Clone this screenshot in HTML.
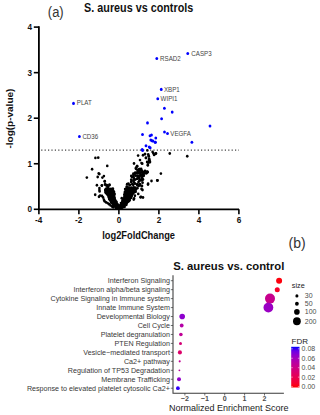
<!DOCTYPE html>
<html><head><meta charset="utf-8"><style>
html,body{margin:0;padding:0;background:#fff;}
body{width:320px;height:415px;overflow:hidden;font-family:"Liberation Sans",sans-serif;}
svg{display:block;}
</style></head><body>
<svg width="320" height="415" viewBox="0 0 320 415">
<rect width="320" height="415" fill="#fff"/>
<text transform="translate(47.80,17.00) scale(1,1.07)" font-family="Liberation Sans, sans-serif" font-size="13" fill="#333">(a)</text>
<text transform="translate(84.10,12.00) scale(1,1.1)" font-family="Liberation Sans, sans-serif" font-size="10.8" font-weight="bold" fill="#111">S. aureus vs controls</text>
<text transform="translate(12.50,118.60) scale(1,1.1) rotate(-90)" font-family="Liberation Sans, sans-serif" font-size="9.1" font-weight="bold" text-anchor="middle" fill="#111">-log(p-value)</text>
<text transform="translate(138.60,238.50) scale(1,1.1)" font-family="Liberation Sans, sans-serif" font-size="9.3" font-weight="bold" text-anchor="middle" fill="#111">log2FoldChange</text>
<line x1="41.2" y1="150.1" x2="239" y2="150.1" stroke="#444" stroke-width="1.2" stroke-dasharray="1.2 2.2"/>
<path d="M38.9 26.3 V209.3 H239" fill="none" stroke="#000" stroke-width="1.8"/>
<line x1="33.8" y1="209.30" x2="38.9" y2="209.30" stroke="#000" stroke-width="1.6"/>
<text transform="translate(32.00,212.30) scale(1,1.1)" font-family="Liberation Sans, sans-serif" font-size="8.2" font-weight="bold" text-anchor="end" fill="#111">0</text>
<line x1="33.8" y1="163.75" x2="38.9" y2="163.75" stroke="#000" stroke-width="1.6"/>
<text transform="translate(32.00,166.75) scale(1,1.1)" font-family="Liberation Sans, sans-serif" font-size="8.2" font-weight="bold" text-anchor="end" fill="#111">1</text>
<line x1="33.8" y1="118.20" x2="38.9" y2="118.20" stroke="#000" stroke-width="1.6"/>
<text transform="translate(32.00,121.20) scale(1,1.1)" font-family="Liberation Sans, sans-serif" font-size="8.2" font-weight="bold" text-anchor="end" fill="#111">2</text>
<line x1="33.8" y1="72.65" x2="38.9" y2="72.65" stroke="#000" stroke-width="1.6"/>
<text transform="translate(32.00,75.65) scale(1,1.1)" font-family="Liberation Sans, sans-serif" font-size="8.2" font-weight="bold" text-anchor="end" fill="#111">3</text>
<line x1="33.8" y1="27.10" x2="38.9" y2="27.10" stroke="#000" stroke-width="1.6"/>
<text transform="translate(32.00,30.10) scale(1,1.1)" font-family="Liberation Sans, sans-serif" font-size="8.2" font-weight="bold" text-anchor="end" fill="#111">4</text>
<line x1="38.90" y1="209.3" x2="38.90" y2="214.3" stroke="#000" stroke-width="1.6"/>
<text transform="translate(38.60,223.30) scale(1,1.1)" font-family="Liberation Sans, sans-serif" font-size="8.2" font-weight="bold" text-anchor="middle" fill="#111">-4</text>
<line x1="78.90" y1="209.3" x2="78.90" y2="214.3" stroke="#000" stroke-width="1.6"/>
<text transform="translate(78.60,223.30) scale(1,1.1)" font-family="Liberation Sans, sans-serif" font-size="8.2" font-weight="bold" text-anchor="middle" fill="#111">-2</text>
<line x1="118.90" y1="209.3" x2="118.90" y2="214.3" stroke="#000" stroke-width="1.6"/>
<text transform="translate(118.90,223.30) scale(1,1.1)" font-family="Liberation Sans, sans-serif" font-size="8.2" font-weight="bold" text-anchor="middle" fill="#111">0</text>
<line x1="158.90" y1="209.3" x2="158.90" y2="214.3" stroke="#000" stroke-width="1.6"/>
<text transform="translate(158.90,223.30) scale(1,1.1)" font-family="Liberation Sans, sans-serif" font-size="8.2" font-weight="bold" text-anchor="middle" fill="#111">2</text>
<line x1="198.90" y1="209.3" x2="198.90" y2="214.3" stroke="#000" stroke-width="1.6"/>
<text transform="translate(198.90,223.30) scale(1,1.1)" font-family="Liberation Sans, sans-serif" font-size="8.2" font-weight="bold" text-anchor="middle" fill="#111">4</text>
<line x1="238.90" y1="209.3" x2="238.90" y2="214.3" stroke="#000" stroke-width="1.6"/>
<text transform="translate(238.90,223.30) scale(1,1.1)" font-family="Liberation Sans, sans-serif" font-size="8.2" font-weight="bold" text-anchor="middle" fill="#111">6</text>
<clipPath id="lc"><rect x="0" y="187.5" width="320" height="21.8"/></clipPath>
<polygon clip-path="url(#lc)" points="104.5,189 107,187.5 110,187.3 112.5,188 114.5,190 115,196 116.5,200 118.5,204 119.6,208.8 115,208.8 113.5,206 111,203 108.5,200 107,196 104.5,193 104,190" fill="#000"/>
<polygon clip-path="url(#lc)" points="117.8,208.8 118.5,205.75 120.5,202.75 122.75,199 123.5,195.25 124.25,191.5 125,187.75 126.5,184.5 130.75,180 131.4,175.6 132.6,173.75 135.1,171.25 137,169.4 138.9,168.75 141,168.5 145,170.5 148.25,171.9 146,174 143.25,178.75 142.6,183 141,186 138,188 136.25,191.5 132.5,195.25 131,199 128.75,202.75 125.5,205.75 123.25,208.8" fill="#000"/>
<circle cx="106.32" cy="188.51" r="1.35" fill="#000"/>
<circle cx="107.25" cy="188.62" r="1.35" fill="#000"/>
<circle cx="109.02" cy="189.43" r="1.35" fill="#000"/>
<circle cx="111.1" cy="189.22" r="1.35" fill="#000"/>
<circle cx="112.81" cy="188.53" r="1.35" fill="#000"/>
<circle cx="105.99" cy="190.49" r="1.35" fill="#000"/>
<circle cx="107.53" cy="191.25" r="1.35" fill="#000"/>
<circle cx="109.0" cy="191.38" r="1.35" fill="#000"/>
<circle cx="110.9" cy="191.11" r="1.35" fill="#000"/>
<circle cx="112.74" cy="190.25" r="1.35" fill="#000"/>
<circle cx="106.16" cy="193.08" r="1.35" fill="#000"/>
<circle cx="107.7" cy="192.02" r="1.35" fill="#000"/>
<circle cx="109.43" cy="193.14" r="1.35" fill="#000"/>
<circle cx="110.74" cy="192.41" r="1.35" fill="#000"/>
<circle cx="112.18" cy="192.5" r="1.35" fill="#000"/>
<circle cx="114.04" cy="192.02" r="1.35" fill="#000"/>
<circle cx="107.88" cy="194.74" r="1.35" fill="#000"/>
<circle cx="109.15" cy="194.13" r="1.35" fill="#000"/>
<circle cx="111.55" cy="193.88" r="1.35" fill="#000"/>
<circle cx="112.43" cy="193.98" r="1.35" fill="#000"/>
<circle cx="114.61" cy="194.02" r="1.35" fill="#000"/>
<circle cx="109.59" cy="196.5" r="1.35" fill="#000"/>
<circle cx="110.87" cy="195.93" r="1.35" fill="#000"/>
<circle cx="112.91" cy="195.52" r="1.35" fill="#000"/>
<circle cx="114.15" cy="195.64" r="1.35" fill="#000"/>
<circle cx="109.07" cy="197.64" r="1.35" fill="#000"/>
<circle cx="111.42" cy="198.39" r="1.35" fill="#000"/>
<circle cx="112.73" cy="197.3" r="1.35" fill="#000"/>
<circle cx="114.31" cy="197.52" r="1.35" fill="#000"/>
<circle cx="109.49" cy="199.26" r="1.35" fill="#000"/>
<circle cx="110.6" cy="199.88" r="1.35" fill="#000"/>
<circle cx="113.08" cy="199.35" r="1.35" fill="#000"/>
<circle cx="114.87" cy="200.13" r="1.35" fill="#000"/>
<circle cx="110.94" cy="201.82" r="1.35" fill="#000"/>
<circle cx="113.3" cy="201.14" r="1.35" fill="#000"/>
<circle cx="114.17" cy="200.94" r="1.35" fill="#000"/>
<circle cx="116.4" cy="201.78" r="1.35" fill="#000"/>
<circle cx="111.35" cy="202.85" r="1.35" fill="#000"/>
<circle cx="113.32" cy="202.93" r="1.35" fill="#000"/>
<circle cx="115.04" cy="203.32" r="1.35" fill="#000"/>
<circle cx="115.8" cy="202.63" r="1.35" fill="#000"/>
<circle cx="113.27" cy="204.72" r="1.35" fill="#000"/>
<circle cx="114.89" cy="204.45" r="1.35" fill="#000"/>
<circle cx="116.0" cy="204.49" r="1.35" fill="#000"/>
<circle cx="117.71" cy="204.7" r="1.35" fill="#000"/>
<circle cx="114.12" cy="205.95" r="1.35" fill="#000"/>
<circle cx="115.86" cy="206.52" r="1.35" fill="#000"/>
<circle cx="118.07" cy="206.34" r="1.35" fill="#000"/>
<circle cx="116.26" cy="208.53" r="1.35" fill="#000"/>
<circle cx="118.04" cy="208.27" r="1.35" fill="#000"/>
<circle cx="141.14" cy="168.9" r="1.35" fill="#000"/>
<circle cx="137.29" cy="169.76" r="1.35" fill="#000"/>
<circle cx="139.03" cy="170.16" r="1.35" fill="#000"/>
<circle cx="141.08" cy="170.41" r="1.35" fill="#000"/>
<circle cx="141.8" cy="170.68" r="1.35" fill="#000"/>
<circle cx="135.27" cy="172.52" r="1.35" fill="#000"/>
<circle cx="137.43" cy="171.92" r="1.35" fill="#000"/>
<circle cx="139.2" cy="171.87" r="1.35" fill="#000"/>
<circle cx="140.78" cy="172.58" r="1.35" fill="#000"/>
<circle cx="142.7" cy="172.25" r="1.35" fill="#000"/>
<circle cx="143.94" cy="171.82" r="1.35" fill="#000"/>
<circle cx="145.36" cy="171.48" r="1.35" fill="#000"/>
<circle cx="147.26" cy="171.6" r="1.35" fill="#000"/>
<circle cx="133.41" cy="173.72" r="1.35" fill="#000"/>
<circle cx="134.94" cy="173.76" r="1.35" fill="#000"/>
<circle cx="136.77" cy="173.26" r="1.35" fill="#000"/>
<circle cx="138.25" cy="173.18" r="1.35" fill="#000"/>
<circle cx="140.23" cy="173.85" r="1.35" fill="#000"/>
<circle cx="142.6" cy="173.94" r="1.35" fill="#000"/>
<circle cx="144.5" cy="173.62" r="1.35" fill="#000"/>
<circle cx="146.38" cy="173.33" r="1.35" fill="#000"/>
<circle cx="133.38" cy="175.03" r="1.35" fill="#000"/>
<circle cx="135.37" cy="175.65" r="1.35" fill="#000"/>
<circle cx="137.27" cy="175.49" r="1.35" fill="#000"/>
<circle cx="139.16" cy="175.8" r="1.35" fill="#000"/>
<circle cx="140.59" cy="175.69" r="1.35" fill="#000"/>
<circle cx="142.58" cy="175.2" r="1.35" fill="#000"/>
<circle cx="143.77" cy="175.78" r="1.35" fill="#000"/>
<circle cx="132.01" cy="177.0" r="1.35" fill="#000"/>
<circle cx="133.51" cy="177.21" r="1.35" fill="#000"/>
<circle cx="137.57" cy="176.67" r="1.35" fill="#000"/>
<circle cx="139.18" cy="177.81" r="1.35" fill="#000"/>
<circle cx="141.95" cy="177.35" r="1.35" fill="#000"/>
<circle cx="131.34" cy="179.51" r="1.35" fill="#000"/>
<circle cx="134.03" cy="178.75" r="1.35" fill="#000"/>
<circle cx="135.17" cy="179.6" r="1.35" fill="#000"/>
<circle cx="136.88" cy="178.91" r="1.35" fill="#000"/>
<circle cx="138.26" cy="178.52" r="1.35" fill="#000"/>
<circle cx="140.29" cy="179.52" r="1.35" fill="#000"/>
<circle cx="142.02" cy="179.01" r="1.35" fill="#000"/>
<circle cx="131.51" cy="180.94" r="1.35" fill="#000"/>
<circle cx="133.62" cy="180.62" r="1.35" fill="#000"/>
<circle cx="139.4" cy="180.69" r="1.35" fill="#000"/>
<circle cx="140.18" cy="180.26" r="1.35" fill="#000"/>
<circle cx="141.81" cy="180.44" r="1.35" fill="#000"/>
<circle cx="131.23" cy="181.94" r="1.35" fill="#000"/>
<circle cx="134.02" cy="182.47" r="1.35" fill="#000"/>
<circle cx="138.5" cy="182.03" r="1.35" fill="#000"/>
<circle cx="142.57" cy="182.68" r="1.35" fill="#000"/>
<circle cx="128.42" cy="183.66" r="1.35" fill="#000"/>
<circle cx="130.0" cy="184.8" r="1.35" fill="#000"/>
<circle cx="132.26" cy="184.22" r="1.35" fill="#000"/>
<circle cx="133.25" cy="184.8" r="1.35" fill="#000"/>
<circle cx="135.07" cy="183.68" r="1.35" fill="#000"/>
<circle cx="137.26" cy="184.15" r="1.35" fill="#000"/>
<circle cx="139.0" cy="184.76" r="1.35" fill="#000"/>
<circle cx="139.99" cy="184.06" r="1.35" fill="#000"/>
<circle cx="126.75" cy="186.54" r="1.35" fill="#000"/>
<circle cx="129.62" cy="185.46" r="1.35" fill="#000"/>
<circle cx="137.35" cy="185.44" r="1.35" fill="#000"/>
<circle cx="138.65" cy="185.85" r="1.35" fill="#000"/>
<circle cx="140.15" cy="185.4" r="1.35" fill="#000"/>
<circle cx="126.92" cy="188.07" r="1.35" fill="#000"/>
<circle cx="127.74" cy="187.23" r="1.35" fill="#000"/>
<circle cx="129.76" cy="188.05" r="1.35" fill="#000"/>
<circle cx="131.61" cy="187.48" r="1.35" fill="#000"/>
<circle cx="133.69" cy="187.46" r="1.35" fill="#000"/>
<circle cx="135.08" cy="187.48" r="1.35" fill="#000"/>
<circle cx="137.36" cy="188.25" r="1.35" fill="#000"/>
<circle cx="125.14" cy="188.99" r="1.35" fill="#000"/>
<circle cx="126.85" cy="189.2" r="1.35" fill="#000"/>
<circle cx="127.74" cy="189.56" r="1.35" fill="#000"/>
<circle cx="130.63" cy="189.96" r="1.35" fill="#000"/>
<circle cx="131.52" cy="189.0" r="1.35" fill="#000"/>
<circle cx="133.55" cy="189.75" r="1.35" fill="#000"/>
<circle cx="134.98" cy="189.4" r="1.35" fill="#000"/>
<circle cx="124.98" cy="191.84" r="1.35" fill="#000"/>
<circle cx="126.52" cy="191.63" r="1.35" fill="#000"/>
<circle cx="128.8" cy="190.7" r="1.35" fill="#000"/>
<circle cx="129.59" cy="190.88" r="1.35" fill="#000"/>
<circle cx="131.9" cy="191.77" r="1.35" fill="#000"/>
<circle cx="133.99" cy="191.19" r="1.35" fill="#000"/>
<circle cx="135.63" cy="191.78" r="1.35" fill="#000"/>
<circle cx="124.97" cy="192.51" r="1.35" fill="#000"/>
<circle cx="126.78" cy="192.89" r="1.35" fill="#000"/>
<circle cx="128.07" cy="193.54" r="1.35" fill="#000"/>
<circle cx="130.13" cy="192.83" r="1.35" fill="#000"/>
<circle cx="132.24" cy="193.6" r="1.35" fill="#000"/>
<circle cx="133.19" cy="193.27" r="1.35" fill="#000"/>
<circle cx="124.44" cy="194.3" r="1.35" fill="#000"/>
<circle cx="127.12" cy="194.73" r="1.35" fill="#000"/>
<circle cx="128.81" cy="194.62" r="1.35" fill="#000"/>
<circle cx="130.19" cy="195.14" r="1.35" fill="#000"/>
<circle cx="132.14" cy="194.42" r="1.35" fill="#000"/>
<circle cx="124.73" cy="195.93" r="1.35" fill="#000"/>
<circle cx="126.54" cy="196.18" r="1.35" fill="#000"/>
<circle cx="128.64" cy="196.45" r="1.35" fill="#000"/>
<circle cx="130.02" cy="196.03" r="1.35" fill="#000"/>
<circle cx="131.72" cy="196.01" r="1.35" fill="#000"/>
<circle cx="125.11" cy="197.84" r="1.35" fill="#000"/>
<circle cx="126.28" cy="198.63" r="1.35" fill="#000"/>
<circle cx="128.3" cy="198.75" r="1.35" fill="#000"/>
<circle cx="129.77" cy="198.26" r="1.35" fill="#000"/>
<circle cx="131.24" cy="197.87" r="1.35" fill="#000"/>
<circle cx="122.66" cy="200.29" r="1.35" fill="#000"/>
<circle cx="125.18" cy="199.7" r="1.35" fill="#000"/>
<circle cx="127.13" cy="200.1" r="1.35" fill="#000"/>
<circle cx="128.08" cy="199.4" r="1.35" fill="#000"/>
<circle cx="129.63" cy="200.14" r="1.35" fill="#000"/>
<circle cx="122.46" cy="201.92" r="1.35" fill="#000"/>
<circle cx="124.62" cy="201.92" r="1.35" fill="#000"/>
<circle cx="127.07" cy="202.03" r="1.35" fill="#000"/>
<circle cx="128.78" cy="201.2" r="1.35" fill="#000"/>
<circle cx="120.97" cy="203.03" r="1.35" fill="#000"/>
<circle cx="122.5" cy="203.3" r="1.35" fill="#000"/>
<circle cx="125.03" cy="203.91" r="1.35" fill="#000"/>
<circle cx="126.27" cy="203.56" r="1.35" fill="#000"/>
<circle cx="119.47" cy="205.52" r="1.35" fill="#000"/>
<circle cx="121.07" cy="204.9" r="1.35" fill="#000"/>
<circle cx="122.54" cy="205.74" r="1.35" fill="#000"/>
<circle cx="124.23" cy="204.78" r="1.35" fill="#000"/>
<circle cx="126.36" cy="204.82" r="1.35" fill="#000"/>
<circle cx="119.07" cy="207.31" r="1.35" fill="#000"/>
<circle cx="121.08" cy="206.91" r="1.35" fill="#000"/>
<circle cx="122.76" cy="206.74" r="1.35" fill="#000"/>
<circle cx="124.64" cy="206.78" r="1.35" fill="#000"/>
<circle cx="118.2" cy="208.46" r="1.35" fill="#000"/>
<circle cx="119.29" cy="208.41" r="1.35" fill="#000"/>
<circle cx="121.3" cy="208.28" r="1.35" fill="#000"/>
<ellipse cx="95.4" cy="157.9" rx="1.3" ry="1.45" fill="#000"/>
<ellipse cx="98.25" cy="157.65" rx="1.3" ry="1.45" fill="#000"/>
<ellipse cx="107.25" cy="165.9" rx="1.3" ry="1.45" fill="#000"/>
<ellipse cx="92.1" cy="169.2" rx="1.3" ry="1.45" fill="#000"/>
<ellipse cx="98.7" cy="173.5" rx="1.3" ry="1.45" fill="#000"/>
<ellipse cx="99.4" cy="174.1" rx="1.3" ry="1.45" fill="#000"/>
<ellipse cx="86.85" cy="177.6" rx="1.3" ry="1.45" fill="#000"/>
<ellipse cx="97.7" cy="177" rx="1.3" ry="1.45" fill="#000"/>
<ellipse cx="102.4" cy="177.6" rx="1.3" ry="1.45" fill="#000"/>
<ellipse cx="103.9" cy="176.1" rx="1.3" ry="1.45" fill="#000"/>
<ellipse cx="104.85" cy="181.4" rx="1.3" ry="1.45" fill="#000"/>
<ellipse cx="96.9" cy="185.3" rx="1.3" ry="1.45" fill="#000"/>
<ellipse cx="101.85" cy="185.5" rx="1.3" ry="1.45" fill="#000"/>
<ellipse cx="105.4" cy="184.75" rx="1.3" ry="1.45" fill="#000"/>
<ellipse cx="106.5" cy="185.5" rx="1.3" ry="1.45" fill="#000"/>
<ellipse cx="99.4" cy="188.1" rx="1.3" ry="1.45" fill="#000"/>
<ellipse cx="99.4" cy="190" rx="1.3" ry="1.45" fill="#000"/>
<ellipse cx="99.6" cy="191.4" rx="1.3" ry="1.45" fill="#000"/>
<ellipse cx="105.4" cy="189.6" rx="1.3" ry="1.45" fill="#000"/>
<ellipse cx="106.1" cy="191.5" rx="1.3" ry="1.45" fill="#000"/>
<ellipse cx="105.75" cy="192.6" rx="1.3" ry="1.45" fill="#000"/>
<ellipse cx="106.9" cy="190.75" rx="1.3" ry="1.45" fill="#000"/>
<ellipse cx="95.2" cy="194.8" rx="1.3" ry="1.45" fill="#000"/>
<ellipse cx="100.1" cy="195.6" rx="1.3" ry="1.45" fill="#000"/>
<ellipse cx="102" cy="196" rx="1.3" ry="1.45" fill="#000"/>
<ellipse cx="99" cy="196.75" rx="1.3" ry="1.45" fill="#000"/>
<ellipse cx="103.1" cy="197.5" rx="1.3" ry="1.45" fill="#000"/>
<ellipse cx="103.9" cy="199.75" rx="1.3" ry="1.45" fill="#000"/>
<ellipse cx="104.6" cy="201.25" rx="1.3" ry="1.45" fill="#000"/>
<ellipse cx="106.1" cy="202.4" rx="1.3" ry="1.45" fill="#000"/>
<ellipse cx="107.6" cy="203.1" rx="1.3" ry="1.45" fill="#000"/>
<ellipse cx="109.1" cy="204.25" rx="1.3" ry="1.45" fill="#000"/>
<ellipse cx="110.6" cy="205.4" rx="1.3" ry="1.45" fill="#000"/>
<ellipse cx="112.1" cy="206.5" rx="1.3" ry="1.45" fill="#000"/>
<ellipse cx="113.25" cy="207.25" rx="1.3" ry="1.45" fill="#000"/>
<ellipse cx="104.7" cy="181.25" rx="1.3" ry="1.45" fill="#000"/>
<ellipse cx="101.9" cy="185.6" rx="1.3" ry="1.45" fill="#000"/>
<ellipse cx="105" cy="184.4" rx="1.3" ry="1.45" fill="#000"/>
<ellipse cx="106.9" cy="185.3" rx="1.3" ry="1.45" fill="#000"/>
<ellipse cx="109.4" cy="185" rx="1.3" ry="1.45" fill="#000"/>
<ellipse cx="108.1" cy="186.9" rx="1.3" ry="1.45" fill="#000"/>
<ellipse cx="109.5" cy="185" rx="1.3" ry="1.45" fill="#000"/>
<ellipse cx="121.75" cy="198.2" rx="1.3" ry="1.45" fill="#000"/>
<ellipse cx="138.25" cy="193.9" rx="1.3" ry="1.45" fill="#000"/>
<ellipse cx="134.9" cy="195.75" rx="1.3" ry="1.45" fill="#000"/>
<ellipse cx="134.1" cy="198.4" rx="1.3" ry="1.45" fill="#000"/>
<ellipse cx="133.75" cy="199.5" rx="1.3" ry="1.45" fill="#000"/>
<ellipse cx="140.5" cy="197.25" rx="1.3" ry="1.45" fill="#000"/>
<ellipse cx="141" cy="197" rx="1.3" ry="1.45" fill="#000"/>
<ellipse cx="143" cy="197.5" rx="1.3" ry="1.45" fill="#000"/>
<ellipse cx="127.1" cy="184.25" rx="1.3" ry="1.45" fill="#000"/>
<ellipse cx="131.25" cy="176" rx="1.3" ry="1.45" fill="#000"/>
<ellipse cx="137.2" cy="166.25" rx="1.3" ry="1.45" fill="#000"/>
<ellipse cx="135.9" cy="168.1" rx="1.3" ry="1.45" fill="#000"/>
<ellipse cx="139.7" cy="169.1" rx="1.3" ry="1.45" fill="#000"/>
<ellipse cx="147.8" cy="165.3" rx="1.3" ry="1.45" fill="#000"/>
<ellipse cx="137" cy="166.1" rx="1.3" ry="1.45" fill="#000"/>
<ellipse cx="136.25" cy="167.6" rx="1.3" ry="1.45" fill="#000"/>
<ellipse cx="135.9" cy="168.75" rx="1.3" ry="1.45" fill="#000"/>
<ellipse cx="139.25" cy="169.1" rx="1.3" ry="1.45" fill="#000"/>
<ellipse cx="140" cy="170.25" rx="1.3" ry="1.45" fill="#000"/>
<ellipse cx="147.35" cy="150.4" rx="1.3" ry="1.45" fill="#000"/>
<ellipse cx="138.1" cy="155.6" rx="1.3" ry="1.45" fill="#000"/>
<ellipse cx="143" cy="155.25" rx="1.3" ry="1.45" fill="#000"/>
<ellipse cx="144.9" cy="154.1" rx="1.3" ry="1.45" fill="#000"/>
<ellipse cx="148.25" cy="154.5" rx="1.3" ry="1.45" fill="#000"/>
<ellipse cx="148.6" cy="156" rx="1.3" ry="1.45" fill="#000"/>
<ellipse cx="146" cy="157.9" rx="1.3" ry="1.45" fill="#000"/>
<ellipse cx="140" cy="160.1" rx="1.3" ry="1.45" fill="#000"/>
<ellipse cx="149" cy="159.4" rx="1.3" ry="1.45" fill="#000"/>
<ellipse cx="149.4" cy="160.9" rx="1.3" ry="1.45" fill="#000"/>
<ellipse cx="149.75" cy="162" rx="1.3" ry="1.45" fill="#000"/>
<ellipse cx="141.5" cy="163.1" rx="1.3" ry="1.45" fill="#000"/>
<ellipse cx="142.25" cy="163.65" rx="1.3" ry="1.45" fill="#000"/>
<ellipse cx="147.1" cy="162" rx="1.3" ry="1.45" fill="#000"/>
<ellipse cx="147.9" cy="162.4" rx="1.3" ry="1.45" fill="#000"/>
<ellipse cx="134" cy="163.5" rx="1.3" ry="1.45" fill="#000"/>
<ellipse cx="147.9" cy="165" rx="1.3" ry="1.45" fill="#000"/>
<ellipse cx="152.6" cy="151.9" rx="1.3" ry="1.45" fill="#000"/>
<ellipse cx="153.4" cy="153.4" rx="1.3" ry="1.45" fill="#000"/>
<ellipse cx="154.1" cy="154.9" rx="1.3" ry="1.45" fill="#000"/>
<ellipse cx="156" cy="153.4" rx="1.3" ry="1.45" fill="#000"/>
<ellipse cx="145.1" cy="154.1" rx="1.3" ry="1.45" fill="#000"/>
<ellipse cx="148.9" cy="156.4" rx="1.3" ry="1.45" fill="#000"/>
<ellipse cx="145.9" cy="157.9" rx="1.3" ry="1.45" fill="#000"/>
<ellipse cx="149.25" cy="159" rx="1.3" ry="1.45" fill="#000"/>
<ellipse cx="149.25" cy="160.5" rx="1.3" ry="1.45" fill="#000"/>
<ellipse cx="150" cy="162" rx="1.3" ry="1.45" fill="#000"/>
<ellipse cx="148.5" cy="162.4" rx="1.3" ry="1.45" fill="#000"/>
<ellipse cx="145.1" cy="171.4" rx="1.3" ry="1.45" fill="#000"/>
<ellipse cx="147.4" cy="172.1" rx="1.3" ry="1.45" fill="#000"/>
<ellipse cx="160.9" cy="173.6" rx="1.3" ry="1.45" fill="#000"/>
<ellipse cx="145" cy="171" rx="1.3" ry="1.45" fill="#000"/>
<ellipse cx="147.5" cy="172.2" rx="1.3" ry="1.45" fill="#000"/>
<ellipse cx="142" cy="175" rx="1.3" ry="1.45" fill="#000"/>
<ellipse cx="143" cy="175.5" rx="1.3" ry="1.45" fill="#000"/>
<ellipse cx="143" cy="179.5" rx="1.3" ry="1.45" fill="#000"/>
<ellipse cx="151.5" cy="181" rx="1.3" ry="1.45" fill="#000"/>
<ellipse cx="157.5" cy="180.5" rx="1.3" ry="1.45" fill="#000"/>
<ellipse cx="148" cy="184.5" rx="1.3" ry="1.45" fill="#000"/>
<ellipse cx="142" cy="186" rx="1.3" ry="1.45" fill="#000"/>
<ellipse cx="141.5" cy="189" rx="1.3" ry="1.45" fill="#000"/>
<ellipse cx="142.5" cy="190" rx="1.3" ry="1.45" fill="#000"/>
<ellipse cx="148.1" cy="183.75" rx="1.3" ry="1.45" fill="#000"/>
<ellipse cx="169.75" cy="153.5" rx="1.3" ry="1.45" fill="#000"/>
<ellipse cx="187.25" cy="156.25" rx="1.3" ry="1.45" fill="#000"/>
<ellipse cx="155.6" cy="153.75" rx="1.3" ry="1.45" fill="#000"/>
<ellipse cx="157.25" cy="180.4" rx="1.3" ry="1.45" fill="#000"/>
<ellipse cx="156.8" cy="58.45" rx="1.4" ry="1.55" fill="#0000ff"/>
<ellipse cx="187.75" cy="53.5" rx="1.4" ry="1.55" fill="#0000ff"/>
<ellipse cx="161.25" cy="89.4" rx="1.4" ry="1.55" fill="#0000ff"/>
<ellipse cx="157.75" cy="98.75" rx="1.4" ry="1.55" fill="#0000ff"/>
<ellipse cx="164.4" cy="108.2" rx="1.4" ry="1.55" fill="#0000ff"/>
<ellipse cx="172.2" cy="112.1" rx="1.4" ry="1.55" fill="#0000ff"/>
<ellipse cx="161.6" cy="118.75" rx="1.4" ry="1.55" fill="#0000ff"/>
<ellipse cx="147.5" cy="122.9" rx="1.4" ry="1.55" fill="#0000ff"/>
<ellipse cx="210" cy="126" rx="1.4" ry="1.55" fill="#0000ff"/>
<ellipse cx="73.5" cy="103.4" rx="1.4" ry="1.55" fill="#0000ff"/>
<ellipse cx="79.4" cy="136.5" rx="1.4" ry="1.55" fill="#0000ff"/>
<ellipse cx="142.5" cy="134.5" rx="1.4" ry="1.55" fill="#0000ff"/>
<ellipse cx="150" cy="135.8" rx="1.4" ry="1.55" fill="#0000ff"/>
<ellipse cx="151.5" cy="135" rx="1.4" ry="1.55" fill="#0000ff"/>
<ellipse cx="155.8" cy="138" rx="1.4" ry="1.55" fill="#0000ff"/>
<ellipse cx="150.8" cy="140" rx="1.4" ry="1.55" fill="#0000ff"/>
<ellipse cx="152" cy="140.7" rx="1.4" ry="1.55" fill="#0000ff"/>
<ellipse cx="153" cy="141" rx="1.4" ry="1.55" fill="#0000ff"/>
<ellipse cx="155.2" cy="142.2" rx="1.4" ry="1.55" fill="#0000ff"/>
<ellipse cx="146" cy="145.8" rx="1.4" ry="1.55" fill="#0000ff"/>
<ellipse cx="149.2" cy="147" rx="1.4" ry="1.55" fill="#0000ff"/>
<ellipse cx="150.2" cy="147.8" rx="1.4" ry="1.55" fill="#0000ff"/>
<ellipse cx="142.2" cy="149.5" rx="1.4" ry="1.55" fill="#0000ff"/>
<ellipse cx="164.5" cy="132" rx="1.4" ry="1.55" fill="#0000ff"/>
<ellipse cx="167.5" cy="133.5" rx="1.4" ry="1.55" fill="#0000ff"/>
<ellipse cx="191.9" cy="142.2" rx="1.4" ry="1.55" fill="#0000ff"/>
<ellipse cx="155.4" cy="142.25" rx="1.4" ry="1.55" fill="#0000ff"/>
<ellipse cx="142.6" cy="150.4" rx="1.4" ry="1.55" fill="#0000ff"/>
<text transform="translate(160.10,60.60) scale(1,1.1)" font-family="Liberation Sans, sans-serif" font-size="6.2" fill="#444">RSAD2</text>
<text transform="translate(191.30,55.60) scale(1,1.1)" font-family="Liberation Sans, sans-serif" font-size="6.2" fill="#444">CASP3</text>
<text transform="translate(164.00,91.90) scale(1,1.1)" font-family="Liberation Sans, sans-serif" font-size="6.2" fill="#444">XBP1</text>
<text transform="translate(160.60,101.00) scale(1,1.1)" font-family="Liberation Sans, sans-serif" font-size="6.2" fill="#444">WIPI1</text>
<text transform="translate(76.80,105.30) scale(1,1.1)" font-family="Liberation Sans, sans-serif" font-size="6.2" fill="#444">PLAT</text>
<text transform="translate(82.40,138.80) scale(1,1.1)" font-family="Liberation Sans, sans-serif" font-size="6.2" fill="#444">CD36</text>
<text transform="translate(170.30,135.70) scale(1,1.1)" font-family="Liberation Sans, sans-serif" font-size="6.2" fill="#444">VEGFA</text>
<text x="288.5" y="248.3" font-family="Liberation Sans, sans-serif" font-size="14" fill="#333">(b)</text>
<text x="173.2" y="270.1" font-family="Liberation Sans, sans-serif" font-size="11.3" font-weight="bold" fill="#111">S. aureus vs. control</text>
<text x="169.9" y="283.20" text-anchor="end" font-family="Liberation Sans, sans-serif" font-size="7.17" fill="#383838">Interferon Signaling</text>
<line x1="170.8" y1="280.70" x2="173.0" y2="280.70" stroke="#333" stroke-width="0.7"/>
<text x="169.9" y="292.16" text-anchor="end" font-family="Liberation Sans, sans-serif" font-size="7.17" fill="#383838">Interferon alpha/beta signaling</text>
<line x1="170.8" y1="289.66" x2="173.0" y2="289.66" stroke="#333" stroke-width="0.7"/>
<text x="169.9" y="301.12" text-anchor="end" font-family="Liberation Sans, sans-serif" font-size="7.17" fill="#383838">Cytokine Signaling in Immune system</text>
<line x1="170.8" y1="298.62" x2="173.0" y2="298.62" stroke="#333" stroke-width="0.7"/>
<text x="169.9" y="310.08" text-anchor="end" font-family="Liberation Sans, sans-serif" font-size="7.17" fill="#383838">Innate Immune System</text>
<line x1="170.8" y1="307.58" x2="173.0" y2="307.58" stroke="#333" stroke-width="0.7"/>
<text x="169.9" y="319.04" text-anchor="end" font-family="Liberation Sans, sans-serif" font-size="7.17" fill="#383838">Developmental Biology</text>
<line x1="170.8" y1="316.54" x2="173.0" y2="316.54" stroke="#333" stroke-width="0.7"/>
<text x="169.9" y="328.00" text-anchor="end" font-family="Liberation Sans, sans-serif" font-size="7.17" fill="#383838">Cell Cycle</text>
<line x1="170.8" y1="325.50" x2="173.0" y2="325.50" stroke="#333" stroke-width="0.7"/>
<text x="169.9" y="336.96" text-anchor="end" font-family="Liberation Sans, sans-serif" font-size="7.17" fill="#383838">Platelet degranulation</text>
<line x1="170.8" y1="334.46" x2="173.0" y2="334.46" stroke="#333" stroke-width="0.7"/>
<text x="169.9" y="345.92" text-anchor="end" font-family="Liberation Sans, sans-serif" font-size="7.17" fill="#383838">PTEN Regulation</text>
<line x1="170.8" y1="343.42" x2="173.0" y2="343.42" stroke="#333" stroke-width="0.7"/>
<text x="169.9" y="354.88" text-anchor="end" font-family="Liberation Sans, sans-serif" font-size="7.17" fill="#383838">Vesicle−mediated transport</text>
<line x1="170.8" y1="352.38" x2="173.0" y2="352.38" stroke="#333" stroke-width="0.7"/>
<text x="169.9" y="363.84" text-anchor="end" font-family="Liberation Sans, sans-serif" font-size="7.17" fill="#383838">Ca2+ pathway</text>
<line x1="170.8" y1="361.34" x2="173.0" y2="361.34" stroke="#333" stroke-width="0.7"/>
<text x="169.9" y="372.80" text-anchor="end" font-family="Liberation Sans, sans-serif" font-size="7.17" fill="#383838">Regulation of TP53 Degradation</text>
<line x1="170.8" y1="370.30" x2="173.0" y2="370.30" stroke="#333" stroke-width="0.7"/>
<text x="169.9" y="381.76" text-anchor="end" font-family="Liberation Sans, sans-serif" font-size="7.17" fill="#383838">Membrane Trafficking</text>
<line x1="170.8" y1="379.26" x2="173.0" y2="379.26" stroke="#333" stroke-width="0.7"/>
<text x="169.9" y="390.72" text-anchor="end" font-family="Liberation Sans, sans-serif" font-size="7.17" fill="#383838">Response to elevated platelet cytosolic Ca2+</text>
<line x1="170.8" y1="388.22" x2="173.0" y2="388.22" stroke="#333" stroke-width="0.7"/>
<path d="M173.0 275.3 V393.3 H283.9" fill="none" stroke="#3a3a3a" stroke-width="1.05"/>
<line x1="184.90" y1="393.3" x2="184.90" y2="395.5" stroke="#333" stroke-width="0.7"/>
<text x="184.90" y="401.2" text-anchor="middle" font-family="Liberation Sans, sans-serif" font-size="7.1" font-weight="bold" fill="#4d4d4d">−2</text>
<line x1="204.80" y1="393.3" x2="204.80" y2="395.5" stroke="#333" stroke-width="0.7"/>
<text x="204.80" y="401.2" text-anchor="middle" font-family="Liberation Sans, sans-serif" font-size="7.1" font-weight="bold" fill="#4d4d4d">−1</text>
<line x1="224.70" y1="393.3" x2="224.70" y2="395.5" stroke="#333" stroke-width="0.7"/>
<text x="224.70" y="401.2" text-anchor="middle" font-family="Liberation Sans, sans-serif" font-size="7.1" font-weight="bold" fill="#4d4d4d">0</text>
<line x1="244.60" y1="393.3" x2="244.60" y2="395.5" stroke="#333" stroke-width="0.7"/>
<text x="244.60" y="401.2" text-anchor="middle" font-family="Liberation Sans, sans-serif" font-size="7.1" font-weight="bold" fill="#4d4d4d">1</text>
<line x1="264.50" y1="393.3" x2="264.50" y2="395.5" stroke="#333" stroke-width="0.7"/>
<text x="264.50" y="401.2" text-anchor="middle" font-family="Liberation Sans, sans-serif" font-size="7.1" font-weight="bold" fill="#4d4d4d">2</text>
<text x="228.7" y="411" text-anchor="middle" font-family="Liberation Sans, sans-serif" font-size="9" fill="#1a1a1a">Normalized Enrichment Score</text>
<circle cx="279.1" cy="280.70" r="3.0" fill="#fd000d"/>
<circle cx="277.25" cy="289.66" r="2.5" fill="#f6002a"/>
<circle cx="270.0" cy="298.62" r="5.0" fill="#c7008d"/>
<circle cx="268.4" cy="307.58" r="4.9" fill="#9a00c3"/>
<circle cx="182.2" cy="316.54" r="2.8" fill="#8d00ce"/>
<circle cx="181.7" cy="325.50" r="1.9" fill="#b400a6"/>
<circle cx="180.9" cy="334.46" r="1.8" fill="#c00096"/>
<circle cx="180.5" cy="343.42" r="1.5" fill="#d40076"/>
<circle cx="179.9" cy="352.38" r="2.05" fill="#dc0069"/>
<circle cx="179.7" cy="361.34" r="1.05" fill="#c20094"/>
<circle cx="179.4" cy="370.30" r="0.9" fill="#ba009f"/>
<circle cx="179.0" cy="379.26" r="2.0" fill="#9200ca"/>
<circle cx="177.9" cy="388.22" r="1.9" fill="#2f00fa"/>
<text x="291.8" y="288.1" font-family="Liberation Sans, sans-serif" font-size="7.3" fill="#1a1a1a">size</text>
<circle cx="296.9" cy="295.9" r="1.55" fill="#000"/>
<text x="304.8" y="298.40" font-family="Liberation Sans, sans-serif" font-size="7" fill="#4d4d4d">30</text>
<circle cx="296.9" cy="303.75" r="1.9" fill="#000"/>
<text x="304.8" y="306.25" font-family="Liberation Sans, sans-serif" font-size="7" fill="#4d4d4d">50</text>
<circle cx="296.9" cy="311.9" r="2.8" fill="#000"/>
<text x="304.8" y="314.40" font-family="Liberation Sans, sans-serif" font-size="7" fill="#4d4d4d">100</text>
<circle cx="296.9" cy="321.25" r="3.9" fill="#000"/>
<text x="304.8" y="323.75" font-family="Liberation Sans, sans-serif" font-size="7" fill="#4d4d4d">200</text>
<text x="291.6" y="343.7" font-family="Liberation Sans, sans-serif" font-size="8" fill="#1a1a1a">FDR</text>
<defs><linearGradient id="g" x1="0" y1="0" x2="0" y2="1"><stop offset="0.0" stop-color="#0000ff"/><stop offset="0.1" stop-color="#6800e7"/><stop offset="0.2" stop-color="#8d00ce"/><stop offset="0.3" stop-color="#a600b7"/><stop offset="0.4" stop-color="#ba009f"/><stop offset="0.5" stop-color="#ca0088"/><stop offset="0.6" stop-color="#d70072"/><stop offset="0.7" stop-color="#e3005b"/><stop offset="0.8" stop-color="#ed0044"/><stop offset="0.9" stop-color="#f6002a"/><stop offset="1.0" stop-color="#ff0000"/></linearGradient></defs>
<rect x="291.2" y="346.8" width="8.3" height="40.7" fill="url(#g)"/>
<line x1="291.2" y1="348.80" x2="292.8" y2="348.80" stroke="#fff" stroke-width="0.5"/>
<line x1="297.9" y1="348.80" x2="299.5" y2="348.80" stroke="#fff" stroke-width="0.5"/>
<text x="301.6" y="351.30" font-family="Liberation Sans, sans-serif" font-size="7" fill="#4d4d4d">0.08</text>
<line x1="291.2" y1="358.25" x2="292.8" y2="358.25" stroke="#fff" stroke-width="0.5"/>
<line x1="297.9" y1="358.25" x2="299.5" y2="358.25" stroke="#fff" stroke-width="0.5"/>
<text x="301.6" y="360.75" font-family="Liberation Sans, sans-serif" font-size="7" fill="#4d4d4d">0.06</text>
<line x1="291.2" y1="367.70" x2="292.8" y2="367.70" stroke="#fff" stroke-width="0.5"/>
<line x1="297.9" y1="367.70" x2="299.5" y2="367.70" stroke="#fff" stroke-width="0.5"/>
<text x="301.6" y="370.20" font-family="Liberation Sans, sans-serif" font-size="7" fill="#4d4d4d">0.04</text>
<line x1="291.2" y1="377.15" x2="292.8" y2="377.15" stroke="#fff" stroke-width="0.5"/>
<line x1="297.9" y1="377.15" x2="299.5" y2="377.15" stroke="#fff" stroke-width="0.5"/>
<text x="301.6" y="379.65" font-family="Liberation Sans, sans-serif" font-size="7" fill="#4d4d4d">0.02</text>
<line x1="291.2" y1="386.60" x2="292.8" y2="386.60" stroke="#fff" stroke-width="0.5"/>
<line x1="297.9" y1="386.60" x2="299.5" y2="386.60" stroke="#fff" stroke-width="0.5"/>
<text x="301.6" y="389.10" font-family="Liberation Sans, sans-serif" font-size="7" fill="#4d4d4d">0.00</text>
</svg>
</body></html>
